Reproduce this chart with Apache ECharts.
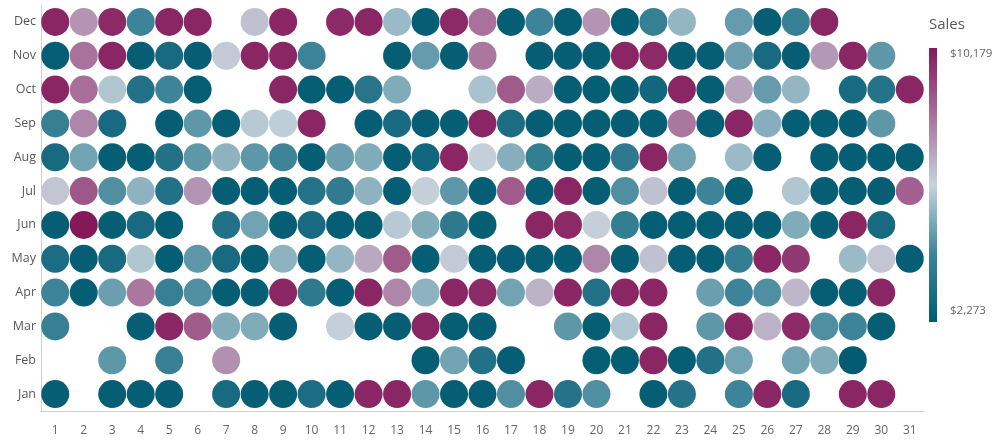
<!DOCTYPE html>
<html>
<head>
<meta charset="utf-8">
<script src="https://cdn.jsdelivr.net/npm/echarts@6/dist/echarts.min.js"></script>
<style>
html,body{margin:0;padding:0;background:#fff;}
#chart{width:1003px;height:440px;}
</style>
</head>
<body>
<div id="chart"></div>
<script>
const days = ['1','2','3','4','5','6','7','8','9','10','11','12','13','14','15','16','17','18','19','20','21','22','23','24','25','26','27','28','29','30','31'];
const months = ['Jan','Feb','Mar','Apr','May','Jun','Jul','Aug','Sep','Oct','Nov','Dec'];

const jan = [2400,null,2400,2400,2400,null,3000,2400,2400,3100,2400,9900,9900,4700,2400,2400,4500,9900,3400,4500,null,2400,3400,null,4200,9900,3000,null,9900,9900,null];
const feb = [null,null,4700,null,4000,null,7600,null,null,null,null,null,null,2400,5000,3300,2400,null,null,2400,2400,9900,2400,3300,5000,null,5000,5200,2273,null,null];
const mar = [4000,null,null,2400,9900,8700,5200,5200,2400,null,6300,2400,2400,9900,2400,2400,null,null,4700,2400,5900,9900,null,4700,9900,6900,9800,4500,4200,2400,null];
const apr = [4200,2400,4900,8100,4000,4500,2400,2400,9900,3700,2400,9900,7800,5400,9900,9800,5000,6900,9900,3300,9900,9900,null,4900,4200,4500,6800,2400,2400,9900,null];
const may = [3100,2400,3000,5900,2400,4700,3000,2400,5400,2400,5500,7100,8700,2400,6400,2400,2400,2400,2400,7800,2400,6600,2400,2400,3900,9900,9500,null,5600,6500,2400];
const jun = [2400,10179,2400,3000,2400,null,3300,5000,2400,3000,2400,2400,6000,5200,3700,2400,null,9900,9800,6300,3900,2400,2400,2400,2400,2400,5200,2400,9900,3000,null];
const jul = [6500,8800,4500,5400,3300,7500,2400,2400,2400,3400,3800,5400,2400,6300,4700,2400,8700,2400,9900,2400,4500,6600,2400,4200,2400,null,5900,2400,2400,2400,8600];
const aug = [3000,5000,2400,2400,3300,4700,5400,4700,4200,2400,4900,5200,2400,2800,9900,6300,5300,3900,2400,2400,3700,9900,5000,null,5600,2400,null,2400,2400,2400,2400];
const sep = [4000,7800,3000,null,2400,4700,2400,6000,6100,9900,null,2400,3000,2400,2400,9900,3100,2400,2400,2400,2400,2400,8100,2400,9900,5300,2400,2400,2400,4700,null];
const oct = [9900,8300,5900,3300,4200,2400,null,null,9900,2400,2400,3500,5200,null,null,5800,8700,7000,2400,2400,2400,2800,9900,2400,7200,4800,5500,null,3000,3400,9900];
const nov = [2400,8200,9900,2400,3000,2400,6400,9900,9900,4200,null,null,2400,4800,2400,8100,null,2400,2400,2400,9900,9800,2400,2400,4900,3000,2400,7400,9900,4700,null];
const dec = [9900,7500,9800,4200,9900,9900,null,6600,9900,null,9800,9900,5600,2400,9800,8200,2400,4200,2400,7500,2400,4000,5500,null,4800,2400,4000,9900,null,null,null];

const salesMin = 2273, salesMax = 10179;
const legendTitle = 'Sales';
const legendMaxLabel = '$10,179';
const legendMinLabel = '$2,273';

const rampColors = ['#025b73', '#3f8599', '#c6d3dc', '#a8729c', '#84195a'];

const rows = [jan,feb,mar,apr,may,jun,jul,aug,sep,oct,nov,dec];
const points = [];
rows.forEach((row, m) => {
  row.forEach((v, d) => { if (v !== null) points.push([d, m, v]); });
});

const FONT = '"Open Sans", "Noto Sans", sans-serif';
const chart = echarts.init(document.getElementById('chart'), null, {renderer: 'canvas'});
chart.setOption({
  animation: false,
  backgroundColor: '#fff',
  grid: {left: 41, right: 79, top: 5, bottom: 29, containLabel: false},
  xAxis: {
    type: 'category', data: days,
    axisLine: {show: true, lineStyle: {color: '#cfcfcf', width: 1}},
    axisTick: {show: false},
    axisLabel: {color: '#666', fontSize: 12, fontFamily: FONT, margin: 14},
    splitLine: {show: false}
  },
  yAxis: {
    type: 'category', data: months,
    axisLine: {show: true, lineStyle: {color: '#cfcfcf', width: 1}},
    axisTick: {show: false},
    axisLabel: {color: '#595959', fontSize: 12.5, fontFamily: FONT, margin: 5},
    splitLine: {show: false}
  },
  visualMap: {
    type: 'continuous', min: salesMin, max: salesMax,
    show: false,
    inRange: {color: rampColors},
    dimension: 2
  },
  graphic: [
    {type: 'text', left: 929, top: 17, style: {text: legendTitle, fill: '#595959', font: '15px ' + FONT}},
    {type: 'rect', left: 929, top: 48, shape: {width: 8, height: 274},
      style: {fill: new echarts.graphic.LinearGradient(0, 1, 0, 0,
        rampColors.map((c, i) => ({offset: i / (rampColors.length - 1), color: c})))}},
    {type: 'text', left: 950, top: 48, style: {text: legendMaxLabel, fill: '#666', font: '11.5px ' + FONT}},
    {type: 'text', left: 950, top: 305, style: {text: legendMinLabel, fill: '#666', font: '11.5px ' + FONT}}
  ],
  series: [{
    type: 'scatter',
    data: points,
    symbol: 'circle',
    symbolSize: 28,
    itemStyle: {opacity: 1},
    emphasis: {disabled: true}
  }]
});
</script>
</body>
</html>
